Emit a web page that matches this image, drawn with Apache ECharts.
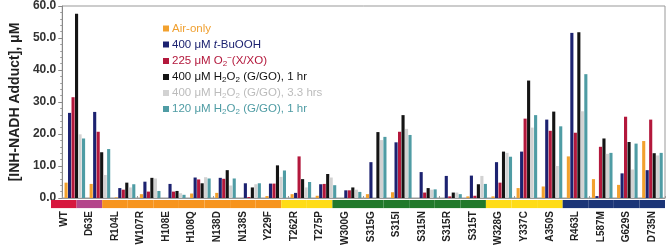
<!DOCTYPE html>
<html><head><meta charset="utf-8">
<script src="https://cdn.jsdelivr.net/npm/echarts@6/dist/echarts.min.js"></script>
<style>html,body{margin:0;padding:0;background:#fff}#c{width:666px;height:248px}</style>
</head><body><div id="c"></div>
<script>
const categories = ['WT','D63E','R104L','W107R','H108E','H108Q','N138D','N138S','Y229F','T262R','T275P','W300G','S315G','S315I','S315N','S315R','S315T','W328G','Y337C','A350S','R463L','L587M','G629S','D735N'];
const groups = ['WT','D63E','A','A','A','A','A','A','A','B','B','C','C','C','C','C','C','B','B','B','D','D','D','D'];
const seriesNames = ['Air-only','400 μM t-BuOOH','225 μM O2-(X/XO)','400 μM H2O2 (G/GO), 1 hr','400 μM H2O2 (G/GO), 3.3 hrs','120 μM H2O2 (G/GO), 1 hr'];
const airOnly   = [4.8,4.4,0.2,1.2,0.0,1.4,1.6,0.0,0.6,1.2,0.7,0.0,1.2,1.8,0.0,0.0,0.5,0.5,3.1,3.6,13.0,5.9,4.1,17.8];
const tBuOOH    = [26.6,26.9,3.1,5.1,4.4,6.4,6.3,4.6,4.5,1.6,4.3,2.4,11.2,17.4,8.1,6.9,7.0,11.2,14.5,24.5,51.6,0.6,7.7,8.7];
const superox   = [31.5,20.7,2.6,2.0,2.0,5.8,6.0,0.3,4.5,13.0,4.4,2.4,0.0,20.7,1.7,0.5,0.7,4.8,24.8,21.0,20.4,16.0,25.4,24.5];
const h2o2_1hr  = [57.6,14.3,4.8,6.3,2.2,4.6,8.7,3.3,10.2,5.9,7.5,3.3,20.6,25.9,3.1,1.7,4.3,14.5,36.7,27.0,51.8,18.6,17.5,14.0];
const h2o2_33hr = [19.9,7.2,3.3,6.1,1.5,6.5,3.9,4.3,6.6,3.3,6.4,2.6,18.1,21.6,2.6,1.7,6.9,14.1,22.0,10.0,27.1,13.8,8.9,13.3];
const h2o2_120  = [18.6,15.3,4.3,2.2,1.0,6.1,6.1,4.6,8.6,5.0,4.0,1.9,19.1,19.7,2.7,1.2,4.4,12.9,25.9,22.4,38.7,14.1,17.0,14.1];
const yTicks = [0,10,20,30,40,50,60];

const seriesData = [airOnly,tBuOOH,superox,h2o2_1hr,h2o2_33hr,h2o2_120];
const colors = ['#f2a12e','#1c2270','#b3183c','#141414','#d2d2d2','#4f9ca4'];
const textColors = ['#f0a030','#1c2270','#b3183c','#141414','#bcbcbc','#4f9ca4'];
const groupColors = {WT:'#d7163e',D63E:'#b4458a',A:'#f7941d',B:'#ffdc16',C:'#21792b',D:'#1b3577'};
const legendFmt = {
  'Air-only':'Air-only',
  '400 μM t-BuOOH':'400 μM {it|t}-BuOOH',
  '225 μM O2-(X/XO)':'225 μM O{sub|2}{sup|−}(X/XO)',
  '400 μM H2O2 (G/GO), 1 hr':'400 μM H{sub|2}O{sub|2} (G/GO), 1 hr',
  '400 μM H2O2 (G/GO), 3.3 hrs':'400 μM H{sub|2}O{sub|2} (G/GO), 3.3 hrs',
  '120 μM H2O2 (G/GO), 1 hr':'120 μM H{sub|2}O{sub|2} (G/GO), 1 hr'
};
const chart = echarts.init(document.getElementById('c'), null, {renderer:'canvas'});
const ff = 'Liberation Sans, Arial, sans-serif';
chart.setOption({
  animation:false,
  color: colors,
  textStyle:{fontFamily:ff},
  legend:{
    orient:'vertical', left:158, top:17, itemWidth:6, itemHeight:6, itemGap:3,
    icon:'rect',
    data: seriesNames.map((n,i)=>({name:n, textStyle:{color:textColors[i]}})),
    formatter: n => legendFmt[n],
    textStyle:{fontSize:11.5, fontFamily:ff, padding:[0,0,0,-2], lineHeight:13,
      rich:{
        it:{fontStyle:'italic', fontSize:11.5},
        sub:{fontSize:8, padding:[5,0,0,0]},
        sup:{fontSize:8, padding:[0,0,6,0]}
      }}
  },
  grid:[
    {left:51, right:1, top:4, bottom:50, show:true, borderColor:'#999', borderWidth:1},
    {left:51, right:1, top:200, height:10}
  ],
  xAxis:[
    {type:'category', gridIndex:0, data:categories, axisLabel:{show:false},
     axisLine:{lineStyle:{color:'#999'}}, axisTick:{show:true, length:2, inside:true, lineStyle:{color:'#999'}}},
    {type:'category', gridIndex:1, data:categories, axisLine:{show:false}, axisTick:{show:false},
     axisLabel:{rotate:90, fontSize:10, fontWeight:'bold', color:'#222', margin:3, interval:0}}
  ],
  yAxis:[
    {type:'value', gridIndex:0, min:yTicks[0], max:yTicks[yTicks.length-1], interval:10,
     name:'[INH-NADH Adduct], μM', nameLocation:'middle', nameGap:37,
     nameTextStyle:{fontSize:14, fontWeight:'bold', color:'#222'},
     axisLine:{show:true, lineStyle:{color:'#888'}},
     axisTick:{show:true, length:4, lineStyle:{color:'#888'}},
     minorTick:{show:true, splitNumber:5, length:2, lineStyle:{color:'#999'}},
     splitLine:{show:false},
     axisLabel:{fontSize:12, fontWeight:'bold', color:'#333', margin:6, formatter:v=>v.toFixed(1)}},
    {type:'value', gridIndex:1, min:0, max:1, show:false}
  ],
  series: seriesData.map((d,i)=>({
    name:seriesNames[i], type:'bar', xAxisIndex:0, yAxisIndex:0, data:d,
    barGap:'12%', barCategoryGap:'18%', itemStyle:{color:colors[i]}
  })).concat([{
    type:'bar', xAxisIndex:1, yAxisIndex:1, barCategoryGap:0, barWidth:'100%', silent:true,
    data: categories.map((c,i)=>({value:1, itemStyle:{color:groupColors[groups[i]]}}))
  }])
});
</script></body></html>
